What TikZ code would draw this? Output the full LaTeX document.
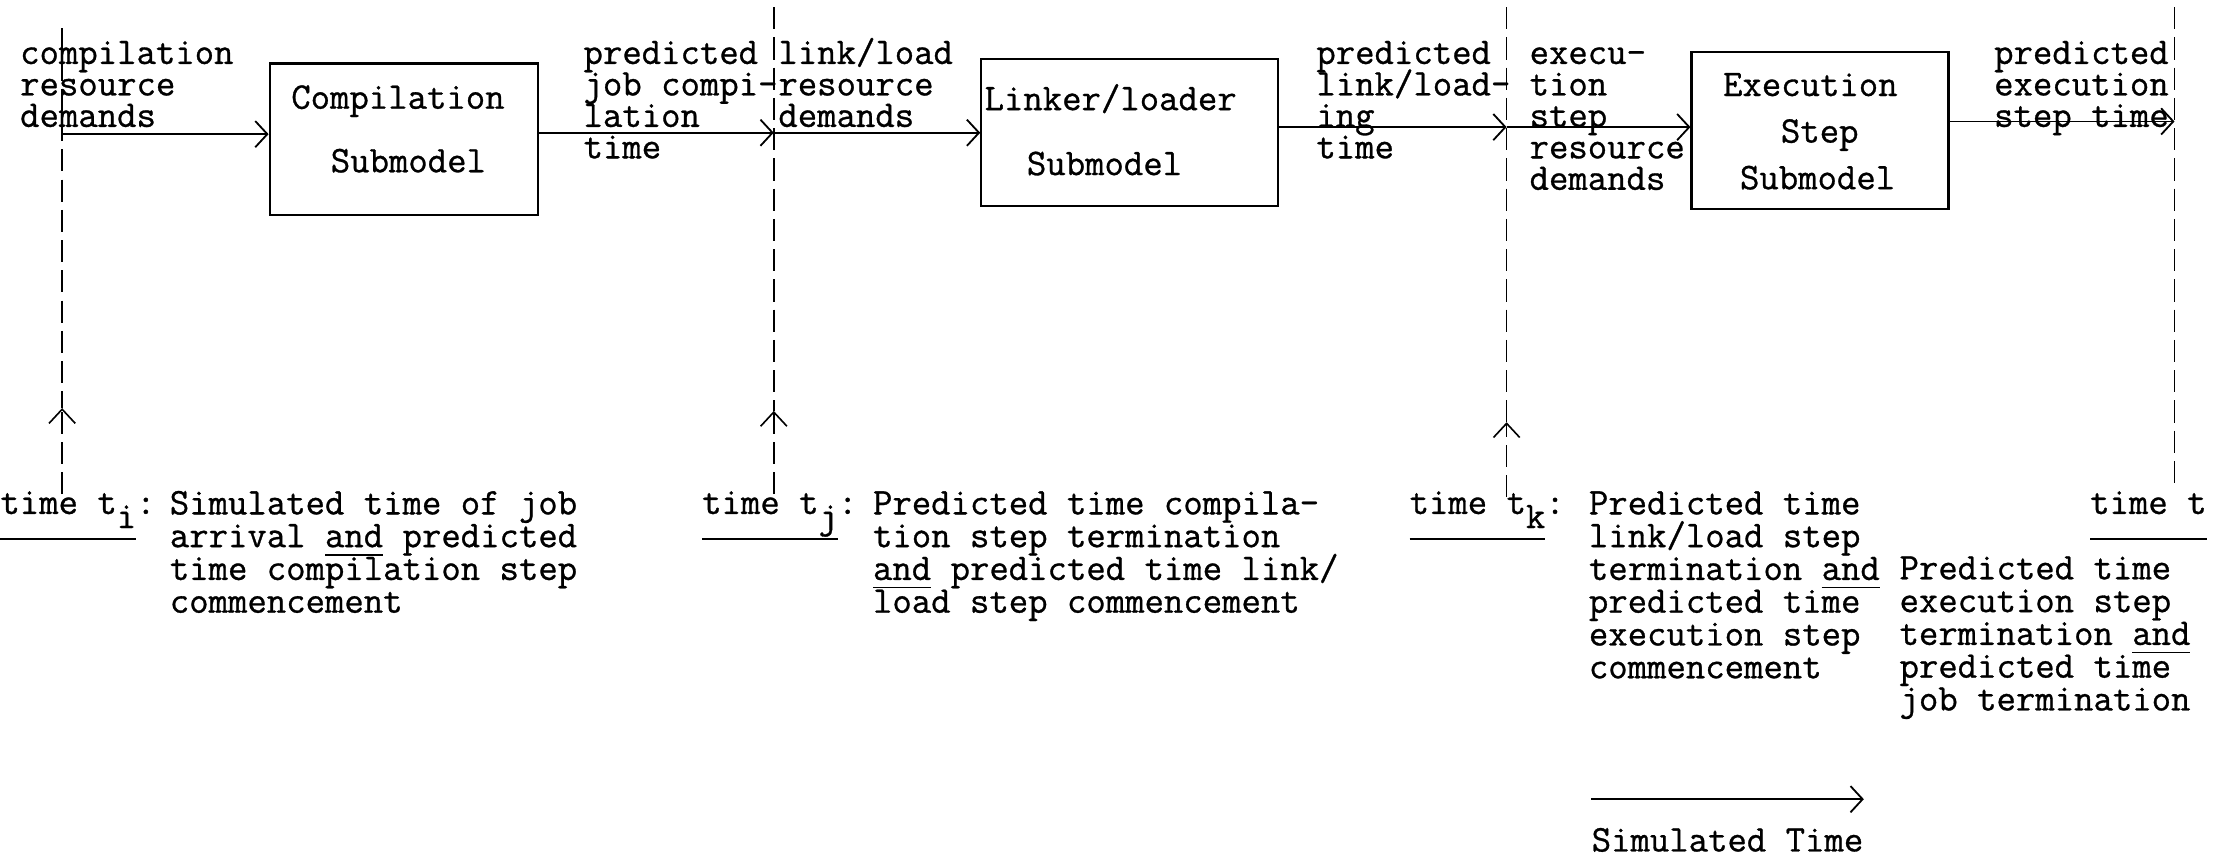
\documentclass[tikz,border=0pt]{standalone}
\usepackage{fontspec}
\usetikzlibrary{arrows.meta}
\newfontfamily\lmtw{Latin Modern Mono}[FakeBold=0.8]
\newcommand\tw{\lmtw\fontsize{18.67pt}{15.6pt}\selectfont\lineskiplimit=-100pt\relax}
\newcommand\twb{\lmtw\fontsize{18.67pt}{16.25pt}\selectfont\lineskiplimit=-100pt\relax}
\newcommand\fs{\rule{0pt}{14.5pt}}
\newcommand\myul[2]{\setbox0=\hbox{#2}\rlap{\rule[-#1]{\wd0}{0.9pt}}\box0\relax}
\begin{document}
\begin{tikzpicture}[x=0.7pt,y=-0.7pt,
  txt/.style={inner sep=0pt, anchor=base west, font=\tw},
  mtop/.style={inner sep=0pt, anchor=north west, yshift=14.5pt, align=left, font=\tw},
  mbot/.style={inner sep=0pt, anchor=north west, yshift=14.5pt, align=left, font=\twb},
  box/.style={draw, line width=1.1pt, inner sep=0pt},
  dline/.style={line width=0.8pt, dash pattern=on 11pt off 4pt},
  arr/.style={line width=0.9pt, -{Straight Barb[length=6pt,width=13pt]}},
  uparr/.style={dline, -{Straight Barb[length=7pt,width=13pt]}},
]
\useasboundingbox (0,0) rectangle (1568,608);

% boxes
\node[box, minimum width=133pt, minimum height=74.9pt] (comp) at (286,98.5) {};
\node[box, minimum width=147pt, minimum height=72.8pt] (link) at (800,94) {};
\node[box, minimum width=127.4pt, minimum height=77.7pt] (exec) at (1289,92.5) {};

% box texts
\node[txt] (compA) at (206,77) {Compilation};
\node[txt] (compB) at (234,122) {Submodel};
\node[txt] (linkA) at (697,78) {Linker/loader};
\node[txt] (linkB) at (727,124) {Submodel};
\node[txt] (execA) at (1220,68) {Execution};
\node[txt] (execB) at (1261,101) {Step};
\node[txt] (execC) at (1232,134) {Submodel};

% dashed time lines
\coordinate (l1t) at (44,20);   \coordinate (l1m) at (44,95);  \coordinate (l1h) at (44,289);  \coordinate (l1b) at (44,350);
\coordinate (l2t) at (548,5);   \coordinate (l2m) at (548,94); \coordinate (l2h) at (548,291); \coordinate (l2b) at (548,350);
\coordinate (l3t) at (1067,5);  \coordinate (l3m) at (1067,90);\coordinate (l3h) at (1067,299);\coordinate (l3b) at (1067,352);
\coordinate (l4t) at (1540,5);  \coordinate (l4m) at (1540,86);\coordinate (l4b) at (1540,343);

\draw[dline] (l1t) -- (l1h);
\draw[uparr] (l1b) -- (l1h);
\draw[dline] (l2t) -- (l2h);
\draw[uparr] (l2b) -- (l2h);
\draw[dline] (l3t) -- (l3h);
\draw[uparr] (l3b) -- (l3h);
\draw[dline] (l4t) -- (l4b);

% flow arrows
\draw[arr] (l1m) -- (l1m -| comp.west);
\draw[arr] (comp.east |- l2m) -- (l2m);
\draw[arr] (l2m) -- (l2m -| link.west);
\draw[arr] (link.east |- l3m) -- (l3m);
\draw[arr] (l3m) -- (l3m -| exec.west);
\draw[arr] (exec.east |- l4m) -- (l4m);

% top labels
\node[mtop] (crd) at (14,45) {\fs compilation\\resource\\demands};
\node[mtop] (pjct) at (413,45) {\fs predicted\\job compi-\\lation\\time};
\node[mtop] (lrd) at (551,45) {\fs link/load\\resource\\demands};
\node[mtop] (plt) at (932,45) {\fs predicted\\link/load-\\ing\\time};
\node[mtop] (esrd) at (1083,45) {\fs execu-\\tion\\step\\resource\\demands};
\node[mtop] (pest) at (1412,45) {\fs predicted\\execution\\step time};

% bottom labels
\node[txt] (ti) at (0,364) {\myul{13pt}{time t\raisebox{-7pt}{i}}:};
\node[mbot] (di) at (120,364) {\fs Simulated time of job\\arrival \myul{4.2pt}{and} predicted\\time compilation step\\commencement};
\node[txt] (tj) at (497,364) {\myul{13pt}{time t\raisebox{-7pt}{j}}:};
\node[mbot] (dj) at (618,364) {\fs Predicted time compila-\\tion step termination\\\myul{4.2pt}{and} predicted time link/\\load step commencement};
\node[txt] (tk) at (998,364) {\myul{13pt}{time t\raisebox{-7pt}{k}}:};
\node[mbot] (dk) at (1125,364) {\fs Predicted time\\link/load step\\termination \myul{4.2pt}{and}\\predicted time\\execution step\\commencement};
\node[txt] (tl) at (1480,364) {\myul{13pt}{time t}};
\node[mbot] (dl) at (1345,410) {\fs Predicted time\\execution step\\termination \myul{4.2pt}{and}\\predicted time\\job termination};

% simulated time arrow
\coordinate (st1) at (1127,566);
\coordinate (st2) at (1320,566);
\draw[arr] (st1) -- (st2);
\node[txt] (simt) at (1127,603) {Simulated Time};
\end{tikzpicture}
\end{document}
